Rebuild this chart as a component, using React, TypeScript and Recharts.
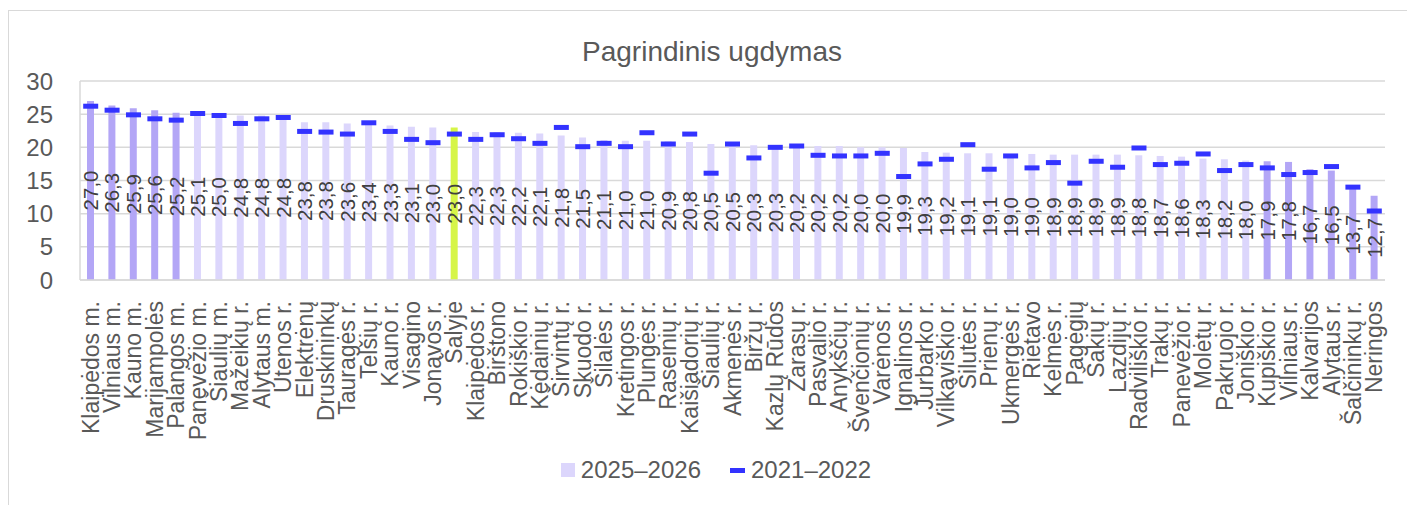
import React from "react";
import {
  ComposedChart,
  Bar,
  Line,
  Cell,
  XAxis,
  YAxis,
  CartesianGrid,
  Legend,
  LabelList,
} from "recharts";

const categories = [
  "Klaipėdos m.", "Vilniaus m.", "Kauno m.", "Marijampolės", "Palangos m.",
  "Panevėžio m.", "Šiaulių m.", "Mažeikių r.", "Alytaus m.", "Utenos r.",
  "Elektrėnų", "Druskininkų", "Tauragės r.", "Telšių r.", "Kauno r.",
  "Visagino", "Jonavos r.", "Šalyje", "Klaipėdos r.", "Birštono",
  "Rokiškio r.", "Kėdainių r.", "Širvintų r.", "Skuodo r.", "Šilalės r.",
  "Kretingos r.", "Plungės r.", "Raseinių r.", "Kaišiadorių r.", "Šiaulių r.",
  "Akmenės r.", "Biržų r.", "Kazlų Rūdos", "Zarasų r.", "Pasvalio r.",
  "Anykščių r.", "Švenčionių r.", "Varėnos r.", "Ignalinos r.", "Jurbarko r.",
  "Vilkaviškio r.", "Šilutės r.", "Prienų r.", "Ukmergės r.", "Rietavo",
  "Kelmės r.", "Pagėgių", "Šakių r.", "Lazdijų r.", "Radviliškio r.",
  "Trakų r.", "Panevėžio r.", "Molėtų r.", "Pakruojo r.", "Joniškio r.",
  "Kupiškio r.", "Vilniaus r.", "Kalvarijos", "Alytaus r.", "Šalčininkų r.",
  "Neringos",
];

// 2025–2026
const values2025 = [
  27.0, 26.3, 25.9, 25.6, 25.2, 25.1, 25.0, 24.8, 24.8, 24.8,
  23.8, 23.8, 23.6, 23.4, 23.3, 23.1, 23.0, 23.0, 22.3, 22.3,
  22.2, 22.1, 21.8, 21.5, 21.1, 21.0, 21.0, 20.9, 20.8, 20.5,
  20.5, 20.3, 20.3, 20.2, 20.2, 20.2, 20.0, 20.0, 19.9, 19.3,
  19.2, 19.1, 19.1, 19.0, 19.0, 18.9, 18.9, 18.9, 18.9, 18.8,
  18.7, 18.6, 18.3, 18.2, 18.0, 17.9, 17.8, 16.7, 16.5, 13.7,
  12.7,
];

// 2021–2022
const values2021 = [
  26.2, 25.6, 24.9, 24.3, 24.1, 25.1, 24.8, 23.6, 24.3, 24.5,
  22.4, 22.3, 22.0, 23.7, 22.4, 21.2, 20.7, 22.0, 21.2, 21.9,
  21.3, 20.6, 23.0, 20.1, 20.6, 20.1, 22.2, 20.5, 22.0, 16.1,
  20.5, 18.4, 20.0, 20.2, 18.8, 18.7, 18.7, 19.1, 15.6, 17.5,
  18.2, 20.4, 16.7, 18.7, 16.9, 17.7, 14.6, 17.9, 17.0, 19.9,
  17.4, 17.6, 19.0, 16.5, 17.4, 16.9, 15.9, 16.2, 17.1, 14.0,
  10.4,
];

const darkGroup = [
  "Klaipėdos m.", "Vilniaus m.", "Kauno m.", "Marijampolės", "Palangos m.",
  "Kupiškio r.", "Vilniaus r.", "Kalvarijos", "Alytaus r.", "Šalčininkų r.", "Neringos",
];
const nationalCategory = "Šalyje";

const yTicks = [0, 5, 10, 15, 20, 25, 30];

const data = categories.map((name, i) => ({
  name,
  v2025: values2025[i],
  v2021: values2021[i],
}));

const FONT = "'Liberation Sans', Arial, sans-serif";
const TEXT = "#595959";
const GRID = "#d9d9d9";
const LIGHT = "#dcd6fc";
const DARK = "#b3a6f6";
const GREEN = "#d6f548";
const DASH = "#3333ff";

const barColor = (name: string) => {
  if (name === nationalCategory) return GREEN;
  if (darkGroup.includes(name)) return DARK;
  return LIGHT;
};

const formatValue = (v: number) => v.toFixed(1).replace(".", ",");

const XTick = (props: any) => {
  const { x, y, payload } = props;
  return (
    <text
      transform={`translate(${x},${y + 21}) rotate(-90)`}
      textAnchor="end"
      dominantBaseline="central"
      fontSize={23}
      fontFamily={FONT}
      fill={TEXT}
    >
      {payload.value}
    </text>
  );
};

const BarLabel = (props: any) => {
  const { x, y, width, height, value } = props;
  const cx = x + width / 2;
  const cy = y + height / 2;
  return (
    <text
      transform={`translate(${cx},${cy}) rotate(-90)`}
      textAnchor="middle"
      dominantBaseline="central"
      fontSize={20.5}
      fontFamily={FONT}
      fill="#404040"
    >
      {formatValue(value)}
    </text>
  );
};

const renderDash = (props: any) => {
  const { cx, cy, index } = props;
  if (cx == null || cy == null) return <g key={`d-${index}`} />;
  return <rect key={`d-${index}`} x={cx - 7.5} y={cy - 2.5} width={15} height={5} fill={DASH} />;
};

const LegendContent = () => (
  <div
    style={{
      display: "flex",
      justifyContent: "center",
      alignItems: "center",
      height: 40,
      paddingLeft: 38,
      fontFamily: FONT,
      fontSize: 24,
      color: TEXT,
    }}
  >
    <span style={{ width: 14, height: 14, background: LIGHT, marginRight: 6 }} />
    <span style={{ marginRight: 29 }}>2025–2026</span>
    <span style={{ width: 15, height: 5, background: DASH, marginRight: 6 }} />
    <span>2021–2022</span>
  </div>
);

export default function App() {
  return (
    <div style={{ position: "relative", width: 1407, height: 505, overflow: "hidden", background: "#fff" }}>
      <style>{`body{margin:0;overflow:hidden}`}</style>
      <div
        style={{
          position: "absolute",
          left: 8,
          top: 10,
          width: 1420,
          height: 520,
          border: `1px solid ${GRID}`,
          boxSizing: "border-box",
        }}
      />
      <div
        style={{
          position: "absolute",
          left: 0,
          top: 38,
          width: 1424,
          textAlign: "center",
          fontFamily: FONT,
          fontSize: 28,
          lineHeight: "28px",
          color: TEXT,
        }}
      >
        Pagrindinis ugdymas
      </div>
      <div style={{ position: "absolute", left: 9, top: 11 }}>
        <ComposedChart
          width={1398}
          height={494}
          data={data}
          margin={{ top: 70, right: 22, left: 0, bottom: 15 }}
        >
          <CartesianGrid vertical={false} stroke={GRID} strokeWidth={1.5} />
          <XAxis
            dataKey="name"
            interval={0}
            height={170}
            tick={<XTick />}
            tickLine={false}
            tickSize={0}
            tickMargin={0}
            axisLine={{ stroke: GRID, strokeWidth: 1.5 }}
          />
          <YAxis
            domain={[0, 30]}
            ticks={yTicks}
            width={71}
            tickLine={false}
            tickSize={0}
            tickMargin={27}
            axisLine={{ stroke: GRID, strokeWidth: 1.5 }}
            tick={{ fontSize: 24, fill: TEXT, fontFamily: FONT }}
          />
          <Legend verticalAlign="bottom" height={40} content={<LegendContent />} />
          <Bar dataKey="v2025" barSize={7} isAnimationActive={false}>
            {data.map((d) => (
              <Cell key={d.name} fill={barColor(d.name)} />
            ))}
            <LabelList dataKey="v2025" content={<BarLabel />} />
          </Bar>
          <Line
            dataKey="v2021"
            stroke="none"
            dot={renderDash}
            activeDot={false}
            legendType="none"
            isAnimationActive={false}
          />
        </ComposedChart>
      </div>
    </div>
  );
}
